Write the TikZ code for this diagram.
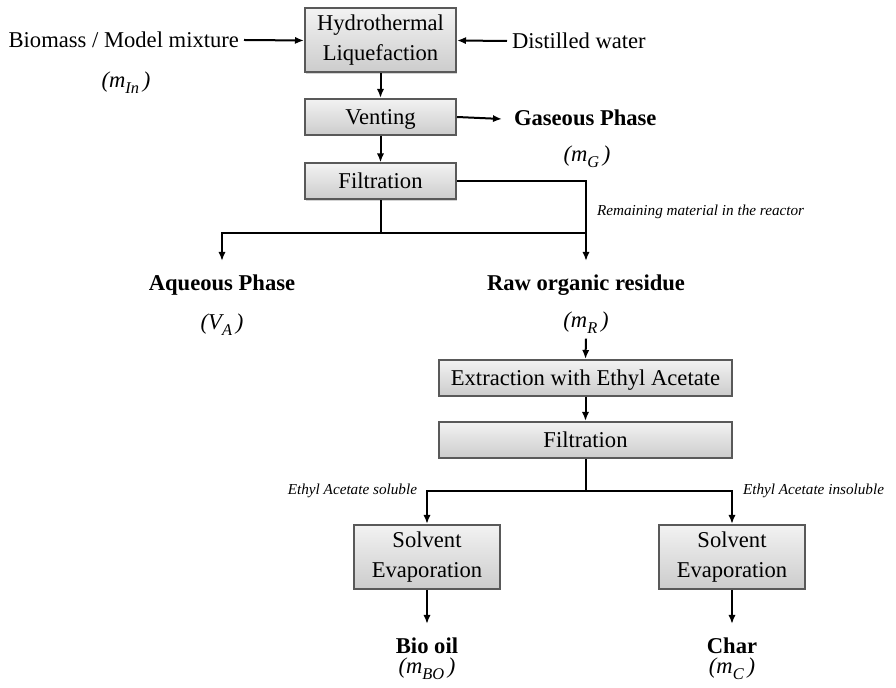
\documentclass[tikz,border=0pt]{standalone}
\usepackage{fontspec}
\setmainfont{Liberation Serif}
\usetikzlibrary{arrows.meta,shadows}
\newcommand{\flow}[2]{(#1\raisebox{-0.55ex}{\fontsize{8.2}{9}\selectfont #2}\,)}
\tikzstyle{proc}=[shape=rectangle,
                draw=black!65,
                top color=black!5,
                bottom color=black!20,
                drop shadow={shadow xshift=0.6pt,shadow yshift=-0.6pt,opacity=0.35},
                align=center,
                inner sep=1pt]
\tikzstyle{oneline}=[text height=9.5pt,
                text depth=2pt]
\tikzstyle{res}=[font=\fontsize{11.3}{14}\selectfont\bfseries,
                inner sep=5.5pt,
                text height=9pt,
                text depth=2.5pt]
\tikzstyle{mass}=[font=\fontsize{11.3}{14}\selectfont\itshape,
                inner sep=0pt]
\tikzstyle{note}=[font=\fontsize{7.6}{9}\selectfont\itshape,
                inner sep=0pt]
\tikzstyle{feed}=[inner sep=2pt]

\begin{document}
\begin{tikzpicture}[>={Latex[length=4.5pt,width=3.6pt]},x=0.5pt,y=-0.5pt,
                    line width=1pt,
                    font=\fontsize{11.3}{15}\selectfont]
\useasboundingbox (0,0) rectangle (896,688);

% process steps
\node[proc,minimum width=75.5pt,minimum height=32pt] (htl) at (380.5,40.5)  {Hydrothermal\\Liquefaction};
\node[proc,oneline,minimum width=75.5pt,minimum height=18pt] (vent) at (380.5,117)  {Venting};
\node[proc,oneline,minimum width=75.5pt,minimum height=18pt] (filt) at (380.5,181.5)  {Filtration};
\node[proc,oneline,minimum width=146.5pt,minimum height=18pt] (ext) at (585.5,378)  {Extraction with Ethyl Acetate};
\node[proc,oneline,minimum width=146.5pt,minimum height=18pt] (filtb) at (585.5,440)  {Filtration};
\node[proc,minimum width=73pt,minimum height=32pt] (evapl) at (427,557)  {Solvent\\Evaporation};
\node[proc,minimum width=73pt,minimum height=32pt] (evapr) at (732,557)  {Solvent\\Evaporation};

% inputs
\node[feed,anchor=east] (bio) at (244,40)  {Biomass / Model mixture};
\node[mass] (min) at (126,83)  {\flow{m}{In}};
\node[feed,anchor=west] (water) at (507,41)  {Distilled water};

% products
\node[res,anchor=west] (gas) at (502,119)  {Gaseous Phase};
\node[mass] (mg) at (587,157)  {\flow{m}{G}};
\node[res,anchor=north] (aq) at (222,261)  {Aqueous Phase};
\node[mass] (va) at (222,325)  {\flow{V}{A}};
\node[res,anchor=north] (raw) at (586,261)  {Raw organic residue};
\node[mass] (mr) at (586,323)  {\flow{m}{R}};
\node[res,anchor=north] (oil) at (427,624)  {Bio oil};
\node[mass] (mbo) at (427,669)  {\flow{m}{BO}};
\node[res,anchor=north] (char) at (732,624)  {Char};
\node[mass] (mc) at (732,669)  {\flow{m}{C}};

% notes
\node[note,anchor=west] (rem) at (596,212)  {Remaining material in the reactor};
\node[note,anchor=east] (sol) at (418,491)  {Ethyl Acetate soluble};
\node[note,anchor=west] (insol) at (742,491)  {Ethyl Acetate insoluble};

% branch points
\coordinate (ja) at (586,233);
\coordinate (jb) at (585.5,491);

% paths
\draw[->] (bio.east) -- (htl.west);
\draw[->] (water.west) -- (htl.east);
\draw[->] (htl) -- (vent);
\draw[->] (vent) -- (filt);
\draw[->] (vent.east) -- (gas.west);
\draw[->] (filt.east) -| (raw.north);
\draw (filt.south) -- (filt.south |- ja);
\draw[->] (ja) -| (aq.north);
\draw[->] (mr.south) ++(0,4) -- (ext.north);
\draw[->] (ext) -- (filtb);
\draw (filtb.south) -- (jb);
\draw[->] (jb) -| (evapl.north);
\draw[->] (jb) -| (evapr.north);
\draw[->] (evapl) -- (oil.north);
\draw[->] (evapr) -- (char.north);

\end{tikzpicture}
\end{document}
